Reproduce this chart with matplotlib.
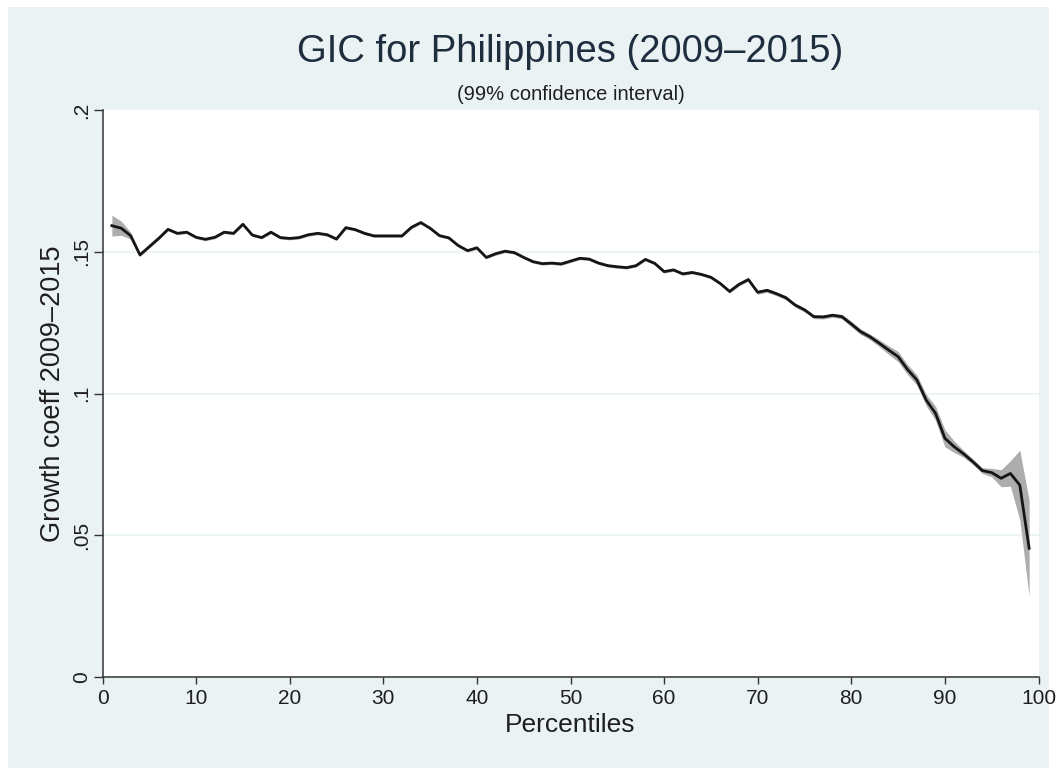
import matplotlib
matplotlib.use('Agg')
import matplotlib.pyplot as plt
from matplotlib.patches import Rectangle
import numpy as np

plt.rcParams['font.family'] = ['Liberation Sans', 'DejaVu Sans']

# growth incidence curve, percentiles 1..99
percentiles = list(range(1, 100))
growth = [
    .1592, .1583, .1557, .1489, .1518, .1547, .1579, .1565, .1569, .1551,
    .1544, .1551, .1569, .1565, .1597, .1559, .1550, .1569, .1550, .1547,
    .1550, .1560, .1565, .1560, .1545, .1585, .1578, .1565, .1556, .1556,
    .1556, .1556, .1586, .1603, .1583, .1557, .1549, .1522, .1504, .1514,
    .1480, .1493, .1502, .1497, .1480, .1465, .1458, .1460, .1457, .1467,
    .1477, .1474, .1460, .1451, .1447, .1444, .1451, .1473, .1459, .1430,
    .1436, .1422, .1427, .1420, .1410, .1388, .1360, .1385, .1402, .1357,
    .1364, .1352, .1338, .1312, .1295, .1271, .1270, .1276, .1271, .1245,
    .1218, .1200, .1177, .1153, .1130, .1085, .1048, .0977, .0930, .0842,
    .0812, .0787, .0759, .0728, .0721, .0701, .0718, .0677, .0454,
]
# half width of the 99% confidence band
ci_half = [
    .0037, .0025, .0012, .0006, .0005, .0005, .0005, .0005, .0005, .0005,
    .0005, .0005, .0005, .0005, .0005, .0005, .0005, .0005, .0005, .0005,
    .0005, .0005, .0005, .0005, .0005, .0005, .0005, .0005, .0005, .0005,
    .0005, .0005, .0005, .0005, .0005, .0005, .0005, .0005, .0005, .0005,
    .0005, .0005, .0005, .0005, .0005, .0005, .0005, .0005, .0005, .0005,
    .0005, .0005, .0005, .0005, .0005, .0005, .0005, .0005, .0005, .0005,
    .0005, .0005, .0005, .0005, .0005, .0005, .0006, .0006, .0006, .0007,
    .0007, .0007, .0007, .0007, .0007, .0007, .0007, .0007, .0008, .0010,
    .0010, .0010, .0012, .0015, .0018, .0018, .0018, .0020, .0025, .0030,
    .0020, .0012, .0010, .0010, .0015, .0030, .0045, .0123, .0170,
]
xticks = [0, 10, 20, 30, 40, 50, 60, 70, 80, 90, 100]
yticks = [0, .05, .1, .15, .2]
ytick_labels = ['0', '.05', '.1', '.15', '.2']

bg = '#EAF2F3'
txt = '#1e1e1e'

fig = plt.figure(figsize=(10.57, 7.71), dpi=100)
fig.patch.set_facecolor('white')
fig.patches.append(Rectangle((8 / 1057, 3 / 771), 1041 / 1057, 761 / 771,
                             transform=fig.transFigure, facecolor=bg,
                             edgecolor='none', zorder=-10))

ax = fig.add_axes([102.5 / 1057, 94 / 771, 936 / 1057, 567 / 771])
ax.set_facecolor('white')

g = np.array(growth)
h = np.array(ci_half)
ax.fill_between(percentiles, g - h, g + h, color='#ADADAD', linewidth=0, zorder=2)
ax.plot(percentiles, growth, color='#151515', linewidth=2.0, zorder=3)

ax.set_xlim(0, 100)
ax.set_ylim(0, .2)
ax.set_xticks(xticks)
ax.set_yticks(yticks)
ax.set_yticklabels(ytick_labels)
for lab in ax.get_yticklabels():
    lab.set_rotation(90)
    lab.set_va('center')

for v in yticks[1:-1]:
    ax.axhline(v, color=bg, linewidth=1.2, zorder=1)

for s in ['top', 'right']:
    ax.spines[s].set_visible(False)
for s in ['left', 'bottom']:
    ax.spines[s].set_color('#333333')
    ax.spines[s].set_linewidth(1.1)

ax.tick_params(axis='both', direction='out', width=1, color='#333333',
               labelsize=15, labelcolor=txt)
ax.tick_params(axis='x', length=5, pad=4)
ax.tick_params(axis='y', length=6.5, pad=2)

ax.set_xlabel('Percentiles', fontsize=19, color=txt, labelpad=3)
ax.set_ylabel('Growth coeff 2009\u20132015', fontsize=19.5, color=txt, labelpad=4)

cx = (102.5 + 936 / 2) / 1057
fig.text(cx, 1 - 52 / 771, 'GIC for Philippines (2009\u20132015)', fontsize=27.5,
         color='#1f2e3f', ha='center', va='center')
fig.text(cx, 1 - 94 / 771, '(99% confidence interval)', fontsize=14.5,
         color=txt, ha='center', va='center')

fig.savefig('out.png', dpi=100, facecolor=fig.get_facecolor())
